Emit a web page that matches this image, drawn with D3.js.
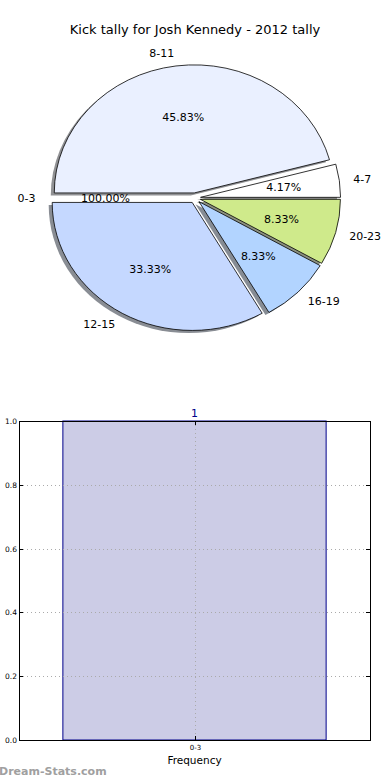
<!DOCTYPE html>
<html>
<head>
<meta charset="utf-8">
<script src="https://cdn.jsdelivr.net/npm/d3@7"></script>
<style>
  body { margin: 0; background: #fff; }
  svg { display: block; font-family: "DejaVu Sans", sans-serif; }
</style>
</head>
<body>
<div id="chart"></div>
<script>
// pie data, in drawing order (counter-clockwise from east)
const pieCats = ['4-7', '8-11', '0-3', '12-15', '16-19', '20-23'];
const pieValues = [1, 11, 0, 8, 2, 2];
const pieLabels = ['4.17%', '45.83%', '100.00%', '33.33%', '8.33%', '8.33%'];
const pieColors = ['#ffffff', '#eaf0ff', '#ffffff', '#c5d8ff', '#b2d4ff', '#cfea8b'];

// bar data
const barCats = ['0-3'];
const barValues = [1];
const yTicks = [0, 0.2, 0.4, 0.6, 0.8, 1.0];

const W = 390;
const H = 780;

const $svg = d3.select('#chart').append('svg')
  .attr('width', W)
  .attr('height', H);

// title
$svg.append('text')
  .attr('x', 195)
  .attr('y', 34)
  .attr('text-anchor', 'middle')
  .style('font-size', '13px')
  .text('Kick tally for Josh Kennedy - 2012 tally');

// ---- pie ----
const cx = 195;
const cy = 198;
const rx = 140;
const ry = 128;
const explode = 0.04;

const pie = d3.pie()
  .sort(null)
  .startAngle(Math.PI / 2)
  .endAngle(Math.PI / 2 - 2 * Math.PI);

const arcs = pie(pieValues);
const arc = d3.arc().innerRadius(0).outerRadius(1);

const mid = d => (d.startAngle + d.endAngle) / 2;
const offX = d => explode * rx * Math.sin(mid(d));
const offY = d => -explode * ry * Math.cos(mid(d));

const $pie = $svg.append('g');
// zero-sized wedges only get their labels
const drawn = arcs.filter(d => d.value > 0);

// shadows first
$pie.selectAll('.shadow')
  .data(drawn)
  .join('path')
  .attr('class', 'shadow')
  .attr('transform', d => `translate(${cx + offX(d) - 0.025 * rx},${cy + offY(d) + 0.02 * ry}) scale(${rx},${ry})`)
  .attr('d', arc)
  .attr('fill', d => {
    const c = d3.rgb(pieColors[d.index]);
    return d3.rgb(c.r * 0.3, c.g * 0.3, c.b * 0.3);
  })
  .attr('fill-opacity', 0.6)
  .attr('stroke', 'none');

$pie.selectAll('.wedge')
  .data(drawn)
  .join('path')
  .attr('class', 'wedge')
  .attr('transform', d => `translate(${cx + offX(d)},${cy + offY(d)}) scale(${rx},${ry})`)
  .attr('d', arc)
  .attr('fill', d => pieColors[d.index])
  .attr('stroke', '#000')
  .attr('stroke-width', 0.8)
  .attr('vector-effect', 'non-scaling-stroke');

// category labels
$pie.selectAll('.lab')
  .data(arcs)
  .join('text')
  .attr('class', 'lab')
  .attr('x', d => cx + (explode + 1.1) * rx * Math.sin(mid(d)))
  .attr('y', d => cy - (explode + 1.1) * ry * Math.cos(mid(d)))
  .attr('dy', '0.35em')
  .attr('text-anchor', d => (Math.sin(mid(d)) > 0 ? 'start' : 'end'))
  .style('font-size', '11px')
  .text((d, i) => pieCats[i]);

// percentage labels
$pie.selectAll('.pct')
  .data(arcs)
  .join('text')
  .attr('class', 'pct')
  .attr('x', d => cx + (explode + 0.6) * rx * Math.sin(mid(d)))
  .attr('y', d => cy - (explode + 0.6) * ry * Math.cos(mid(d)))
  .attr('dy', '0.35em')
  .attr('text-anchor', 'middle')
  .style('font-size', '11px')
  .text((d, i) => pieLabels[i]);

// ---- bar chart ----
const bx0 = 19;
const bx1 = 370;
const by0 = 421;
const by1 = 740;

const scaleX = d3.scaleLinear().domain([-0.5, barCats.length - 0.5]).range([bx0, bx1]);
const scaleY = d3.scaleLinear().domain([0, 1]).range([by1, by0]);
const barW = 0.75;

const $bar = $svg.append('g');

// bars
$bar.selectAll('.bar')
  .data(barValues)
  .join('rect')
  .attr('class', 'bar')
  .attr('x', (d, i) => scaleX(i - barW / 2))
  .attr('y', d => scaleY(d))
  .attr('width', scaleX(barW) - scaleX(0))
  .attr('height', d => scaleY(0) - scaleY(d))
  .attr('fill', '#ccccE6')
  .attr('stroke', '#00008b')
  .attr('stroke-width', 1);

// grid
$bar.selectAll('.gy')
  .data(yTicks)
  .join('line')
  .attr('class', 'gy')
  .attr('x1', bx0)
  .attr('x2', bx1)
  .attr('y1', d => Math.round(scaleY(d)) + 0.5)
  .attr('y2', d => Math.round(scaleY(d)) + 0.5)
  .attr('stroke', '#aaa')
  .attr('stroke-dasharray', '1,3');

$bar.selectAll('.gx')
  .data(barCats)
  .join('line')
  .attr('class', 'gx')
  .attr('x1', (d, i) => Math.round(scaleX(i)) + 0.5)
  .attr('x2', (d, i) => Math.round(scaleX(i)) + 0.5)
  .attr('y1', by0)
  .attr('y2', by1)
  .attr('stroke', '#aaa')
  .attr('stroke-dasharray', '1,3');

// frame
$bar.append('rect')
  .attr('x', bx0 + 0.5)
  .attr('y', by0 + 0.5)
  .attr('width', bx1 - bx0)
  .attr('height', by1 - by0)
  .attr('fill', 'none')
  .attr('stroke', '#000')
  .attr('stroke-width', 1);

// y ticks, inside on both sides
const $yt = $bar.selectAll('.yt')
  .data(yTicks)
  .join('g')
  .attr('class', 'yt')
  .attr('transform', d => `translate(0,${Math.round(scaleY(d)) + 0.5})`);
$yt.append('line').attr('x1', bx0).attr('x2', bx0 + 4).attr('stroke', '#000');
$yt.append('line').attr('x1', bx1 - 4).attr('x2', bx1).attr('stroke', '#000');
$yt.append('text')
  .attr('x', bx0 - 2)
  .attr('dy', '0.35em')
  .attr('text-anchor', 'end')
  .style('font-size', '7.5px')
  .text(d => d3.format('.1f')(d));

// x ticks
const $xt = $bar.selectAll('.xt')
  .data(barCats)
  .join('g')
  .attr('class', 'xt')
  .attr('transform', (d, i) => `translate(${Math.round(scaleX(i)) + 0.5},0)`);
$xt.append('line').attr('y1', by1).attr('y2', by1 - 4).attr('stroke', '#000');
$xt.append('line').attr('y1', by0).attr('y2', by0 + 4).attr('stroke', '#000');
$xt.append('text')
  .attr('y', by1 + 10)
  .attr('text-anchor', 'middle')
  .style('font-size', '7px')
  .text(d => d);

// value labels
$bar.selectAll('.val')
  .data(barValues)
  .join('text')
  .attr('class', 'val')
  .attr('x', (d, i) => scaleX(i))
  .attr('y', d => scaleY(d) - 4)
  .attr('text-anchor', 'middle')
  .attr('fill', '#00008b')
  .style('font-size', '11px')
  .text(d => d);

// axis label
$bar.append('text')
  .attr('x', (bx0 + bx1) / 2)
  .attr('y', 764)
  .attr('text-anchor', 'middle')
  .style('font-size', '10.5px')
  .text('Frequency');

// watermark
$svg.append('text')
  .attr('x', -1)
  .attr('y', 775)
  .attr('fill', '#a0a0a0')
  .style('font-size', '11px')
  .style('font-weight', 'bold')
  .text('Dream-Stats.com');
</script>
</body>
</html>
